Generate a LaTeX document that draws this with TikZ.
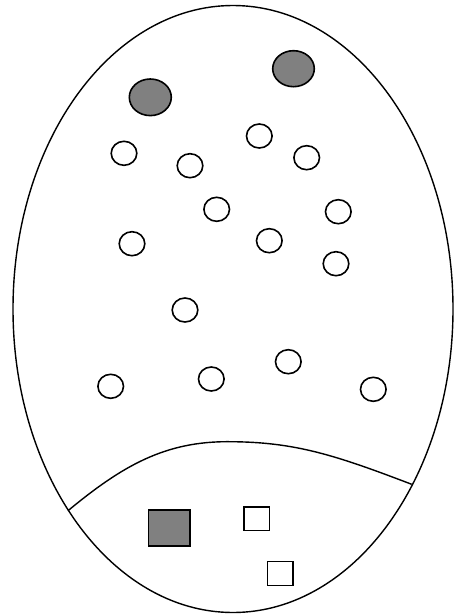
\documentclass[tikz,border=0pt]{standalone}
\usepackage{tikz}
\usepackage{xcolor}
\definecolor{CellGray}{HTML}{808080}

\begin{document}
\begin{tikzpicture}[x=1pt,y=-1pt,line width=1.4pt]
  \useasboundingbox (0,0) rectangle (455,616);
  % outer egg
  \draw (233,309) ellipse [x radius=220, y radius=303.5];
  % large gray bodies
  \filldraw[fill=CellGray,line width=1.6pt] (150.3,97.3) ellipse [x radius=21, y radius=18.3];
  \filldraw[fill=CellGray,line width=1.6pt] (293.5,68.7) ellipse [x radius=20.8, y radius=18];
  % small white cells
  \foreach \x/\y in {124/153.3,190/165.7,259.3/136,306.7/157.7,216.7/209.3,338.3/211.7,
                     132/243.7,269.3/240.7,336/263.7,185/310,110.7/386.3,211.3/379,
                     288.3/361.7,373.3/389.3} {
    \draw[line width=1.6pt] (\x,\y) ellipse [x radius=12.8, y radius=12];
  }
  % dividing curve
  \coordinate (cutL) at (68,510.7);
  \coordinate (cutR) at (411.7,484.3);
  \draw (cutL) .. controls (122,466) and (165,441) .. (230,441.7)
               .. controls (295,442) and (335,455) .. (cutR);
  % squares
  \filldraw[fill=CellGray,line width=1.6pt] (148.3,510) rectangle (190,546);
  \draw[line width=1.6pt] (243.7,507) rectangle (269.3,530.3);
  \draw[line width=1.6pt] (267.3,561.3) rectangle (293,585.3);
\end{tikzpicture}
\end{document}
